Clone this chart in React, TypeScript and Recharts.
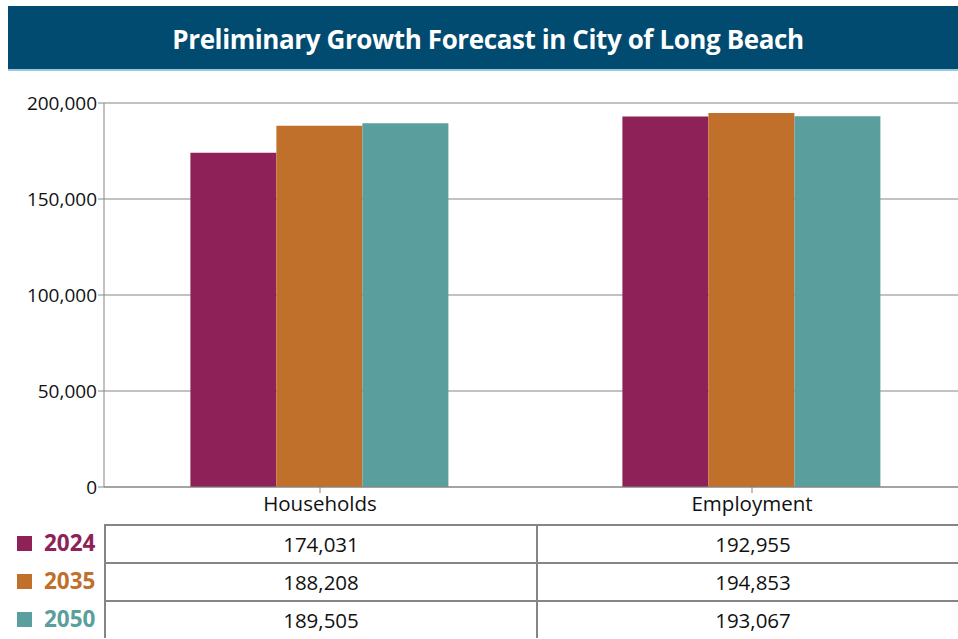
import React from "react";
import { BarChart, Bar, XAxis, YAxis, CartesianGrid } from "recharts";

// values
const categories = ["Households", "Employment"];
const years = ["2024", "2035", "2050"];
const values2024 = [174031, 192955];
const values2035 = [188208, 194853];
const values2050 = [189505, 193067];
const yTicks = [0, 50000, 100000, 150000, 200000];

const colors = ["#8e2258", "#c0702a", "#5a9f9d"];
const seriesValues = [values2024, values2035, values2050];

const data = categories.map((name, i) => ({
  name,
  y2024: values2024[i],
  y2035: values2035[i],
  y2050: values2050[i],
}));

const font = "'Open Sans', 'Noto Sans', sans-serif";
const fmt = (v: number) => v.toLocaleString("en-US");
const lineColor = "#858585";

const App: React.FC = () => {
  return (
    <div
      style={{
        position: "absolute",
        left: 0,
        top: 0,
        width: 958,
        height: 639,
        overflow: "hidden",
        background: "#fff",
        fontFamily: font,
      }}
    >
      {/* title bar */}
      <div
        style={{
          position: "absolute",
          left: 8,
          top: 6,
          width: 960,
          height: 63,
          background: "#004b6f",
          borderBottom: "2px solid #9cc8dd",
          color: "#fff",
          fontWeight: 700,
          fontSize: 26,
          lineHeight: "67px",
          textAlign: "center",
          letterSpacing: -0.4,
        }}
      >
        Preliminary Growth Forecast in City of Long Beach
      </div>

      <div style={{ position: "absolute", left: 0, top: 80 }}>
        <BarChart
          width={980}
          height={437}
          data={data}
          margin={{ top: 23, right: 12, bottom: 0, left: 0 }}
          barCategoryGap="20%"
          barGap={0}
        >
          <CartesianGrid vertical={false} stroke={lineColor} strokeWidth={1.2} />
          <XAxis
            dataKey="name"
            height={30}
            axisLine={{ stroke: lineColor }}
            tickLine={{ stroke: lineColor }}
            tickSize={6}
            tick={{ fill: "#111", fontSize: 20.5, fontFamily: font }}
            tickMargin={3}
          />
          <YAxis
            width={104}
            domain={[0, 200000]}
            ticks={yTicks}
            interval={0}
            axisLine={{ stroke: lineColor }}
            tickLine={{ stroke: lineColor }}
            tickSize={6}
            tickMargin={1}
            tickFormatter={fmt}
            tick={{ fill: "#111", fontSize: 19, fontFamily: font }}
          />
          <Bar dataKey="y2024" fill={colors[0]} isAnimationActive={false} />
          <Bar dataKey="y2035" fill={colors[1]} isAnimationActive={false} />
          <Bar dataKey="y2050" fill={colors[2]} isAnimationActive={false} />
        </BarChart>
      </div>

      {/* data table */}
      <div style={{ position: "absolute", left: 0, top: 524 }}>
        {years.map((year, r) => (
          <div key={year} style={{ position: "relative", height: 38 }}>
            <div
              style={{
                position: "absolute",
                left: 17,
                top: 12,
                width: 15,
                height: 15,
                background: colors[r],
              }}
            />
            <div
              style={{
                position: "absolute",
                left: 44,
                top: 0,
                lineHeight: "38px",
                fontSize: 22.5,
                fontWeight: 700,
                color: colors[r],
              }}
            >
              {year}
            </div>
            {categories.map((c, i) => (
              <div
                key={c}
                style={{
                  position: "absolute",
                  left: i === 0 ? 104 : 536,
                  width: 432,
                  top: 0,
                  height: 38,
                  boxSizing: "border-box",
                  borderTop: `2px solid ${lineColor}`,
                  borderLeft: `2px solid ${lineColor}`,
                  textAlign: "center",
                  lineHeight: "36px",
                  fontSize: 20.5,
                  color: "#111",
                }}
              >
                {fmt(seriesValues[r][i])}
              </div>
            ))}
          </div>
        ))}
      </div>
    </div>
  );
};

export default App;
